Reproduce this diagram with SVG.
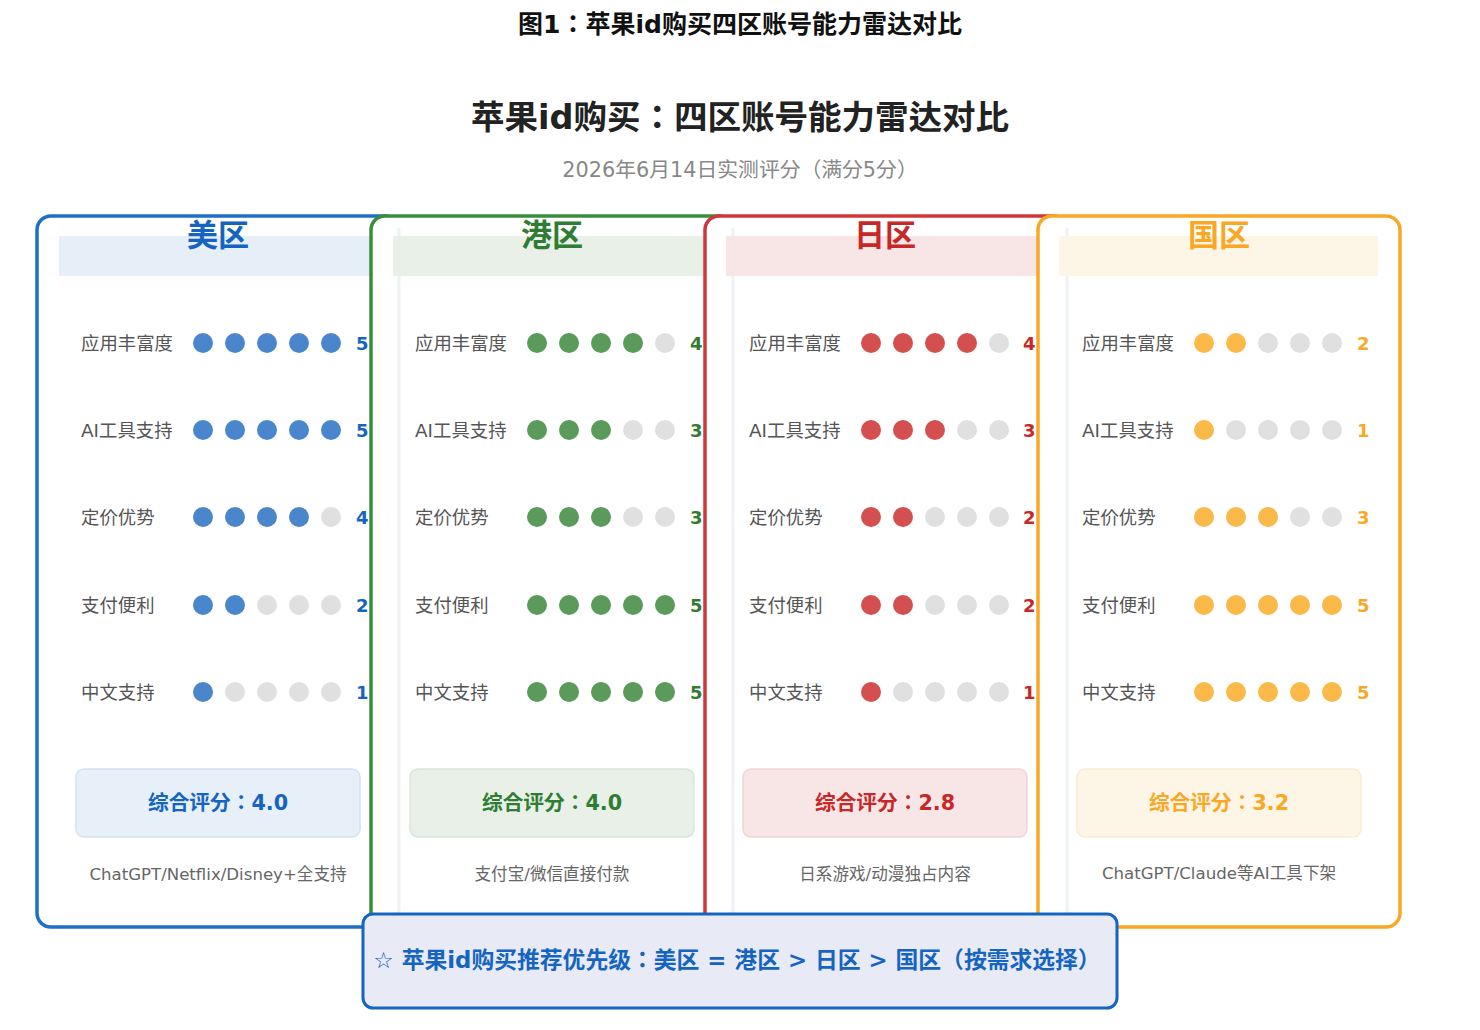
<svg xmlns="http://www.w3.org/2000/svg" width="1480" height="1030" viewBox="0 0 1480 1030">
<style>
text{font-family:"DejaVu Sans","Noto Sans CJK JP",sans-serif}
.lab{font-size:18.4px;fill:#555}
.hd{font-size:31px;font-weight:bold;text-anchor:middle}
.num{font-size:18px;font-weight:bold}
.sc{font-size:20.7px;font-weight:bold;text-anchor:middle}
.note{font-size:16.6px;fill:#666;text-anchor:middle}
.e{fill:#e0e0e0}
.b{fill:#4a86cc}.g{fill:#5a9a5a}.r{fill:#d45050}.o{fill:#fbb94a}
.card{fill:#fff;stroke-width:3.5}
.faint{fill:none;stroke:#eef2f5;stroke-width:3}
</style>
<rect width="1480" height="1030" fill="#fff"/>
<text x="740" y="33" font-size="25" font-weight="bold" text-anchor="middle" fill="#111">图1：苹果id购买四区账号能力雷达对比</text>
<text x="740" y="129" font-size="33.5" font-weight="bold" text-anchor="middle" fill="#222">苹果id购买：四区账号能力雷达对比</text>
<text x="740" y="177" font-size="20.8" text-anchor="middle" fill="#888">2026年6月14日实测评分（满分5分）</text>

<g id="card-us">
<rect class="card" x="37" y="216" width="362" height="711" rx="14" stroke="#1e6fc8"/>
<rect x="59" y="236" width="320" height="40" fill="#e6eef8"/>
<text class="hd" x="218" y="246" fill="#1565c0">美区</text>
<g class="lab"><text x="81" y="350">应用丰富度</text><text x="81" y="437">AI工具支持</text><text x="81" y="524">定价优势</text><text x="81" y="612">支付便利</text><text x="81" y="699">中文支持</text></g>
<g><circle class="b" cx="203" cy="343" r="10"/><circle class="b" cx="235" cy="343" r="10"/><circle class="b" cx="267" cy="343" r="10"/><circle class="b" cx="299" cy="343" r="10"/><circle class="b" cx="331" cy="343" r="10"/>
<circle class="b" cx="203" cy="430" r="10"/><circle class="b" cx="235" cy="430" r="10"/><circle class="b" cx="267" cy="430" r="10"/><circle class="b" cx="299" cy="430" r="10"/><circle class="b" cx="331" cy="430" r="10"/>
<circle class="b" cx="203" cy="517" r="10"/><circle class="b" cx="235" cy="517" r="10"/><circle class="b" cx="267" cy="517" r="10"/><circle class="b" cx="299" cy="517" r="10"/><circle class="e" cx="331" cy="517" r="10"/>
<circle class="b" cx="203" cy="605" r="10"/><circle class="b" cx="235" cy="605" r="10"/><circle class="e" cx="267" cy="605" r="10"/><circle class="e" cx="299" cy="605" r="10"/><circle class="e" cx="331" cy="605" r="10"/>
<circle class="b" cx="203" cy="692" r="10"/><circle class="e" cx="235" cy="692" r="10"/><circle class="e" cx="267" cy="692" r="10"/><circle class="e" cx="299" cy="692" r="10"/><circle class="e" cx="331" cy="692" r="10"/></g>
<g class="num" fill="#1565c0"><text x="356" y="350">5</text><text x="356" y="437">5</text><text x="356" y="524">4</text><text x="356" y="612">2</text><text x="356" y="699">1</text></g>
<rect x="76" y="769" width="284" height="68" rx="8" fill="#e7eff9" stroke="#d4e2f3" stroke-width="1.5"/>
<text class="sc" x="218" y="810" fill="#1565c0">综合评分：4.0</text>
<text class="note" x="218" y="880">ChatGPT/Netflix/Disney+全支持</text>
</g>

<g id="card-hk">
<rect class="card" x="371" y="216" width="362" height="711" rx="14" stroke="#388e3c"/>
<line class="faint" x1="399" y1="228" x2="399" y2="914"/>
<rect x="393" y="236" width="320" height="40" fill="#e8f0e8"/>
<text class="hd" x="552" y="246" fill="#2e7d32">港区</text>
<g class="lab"><text x="415" y="350">应用丰富度</text><text x="415" y="437">AI工具支持</text><text x="415" y="524">定价优势</text><text x="415" y="612">支付便利</text><text x="415" y="699">中文支持</text></g>
<g><circle class="g" cx="537" cy="343" r="10"/><circle class="g" cx="569" cy="343" r="10"/><circle class="g" cx="601" cy="343" r="10"/><circle class="g" cx="633" cy="343" r="10"/><circle class="e" cx="665" cy="343" r="10"/>
<circle class="g" cx="537" cy="430" r="10"/><circle class="g" cx="569" cy="430" r="10"/><circle class="g" cx="601" cy="430" r="10"/><circle class="e" cx="633" cy="430" r="10"/><circle class="e" cx="665" cy="430" r="10"/>
<circle class="g" cx="537" cy="517" r="10"/><circle class="g" cx="569" cy="517" r="10"/><circle class="g" cx="601" cy="517" r="10"/><circle class="e" cx="633" cy="517" r="10"/><circle class="e" cx="665" cy="517" r="10"/>
<circle class="g" cx="537" cy="605" r="10"/><circle class="g" cx="569" cy="605" r="10"/><circle class="g" cx="601" cy="605" r="10"/><circle class="g" cx="633" cy="605" r="10"/><circle class="g" cx="665" cy="605" r="10"/>
<circle class="g" cx="537" cy="692" r="10"/><circle class="g" cx="569" cy="692" r="10"/><circle class="g" cx="601" cy="692" r="10"/><circle class="g" cx="633" cy="692" r="10"/><circle class="g" cx="665" cy="692" r="10"/></g>
<g class="num" fill="#2e7d32"><text x="690" y="350">4</text><text x="690" y="437">3</text><text x="690" y="524">3</text><text x="690" y="612">5</text><text x="690" y="699">5</text></g>
<rect x="410" y="769" width="284" height="68" rx="8" fill="#e8f0e8" stroke="#d6e6d6" stroke-width="1.5"/>
<text class="sc" x="552" y="810" fill="#2e7d32">综合评分：4.0</text>
<text class="note" x="552" y="880">支付宝/微信直接付款</text>
</g>

<g id="card-jp">
<rect class="card" x="705" y="216" width="362" height="711" rx="14" stroke="#d03838"/>
<line class="faint" x1="733" y1="228" x2="733" y2="914"/>
<rect x="726" y="236" width="320" height="40" fill="#f8e6e6"/>
<text class="hd" x="885" y="246" fill="#c62828">日区</text>
<g class="lab"><text x="749" y="350">应用丰富度</text><text x="749" y="437">AI工具支持</text><text x="749" y="524">定价优势</text><text x="749" y="612">支付便利</text><text x="749" y="699">中文支持</text></g>
<g><circle class="r" cx="871" cy="343" r="10"/><circle class="r" cx="903" cy="343" r="10"/><circle class="r" cx="935" cy="343" r="10"/><circle class="r" cx="967" cy="343" r="10"/><circle class="e" cx="999" cy="343" r="10"/>
<circle class="r" cx="871" cy="430" r="10"/><circle class="r" cx="903" cy="430" r="10"/><circle class="r" cx="935" cy="430" r="10"/><circle class="e" cx="967" cy="430" r="10"/><circle class="e" cx="999" cy="430" r="10"/>
<circle class="r" cx="871" cy="517" r="10"/><circle class="r" cx="903" cy="517" r="10"/><circle class="e" cx="935" cy="517" r="10"/><circle class="e" cx="967" cy="517" r="10"/><circle class="e" cx="999" cy="517" r="10"/>
<circle class="r" cx="871" cy="605" r="10"/><circle class="r" cx="903" cy="605" r="10"/><circle class="e" cx="935" cy="605" r="10"/><circle class="e" cx="967" cy="605" r="10"/><circle class="e" cx="999" cy="605" r="10"/>
<circle class="r" cx="871" cy="692" r="10"/><circle class="e" cx="903" cy="692" r="10"/><circle class="e" cx="935" cy="692" r="10"/><circle class="e" cx="967" cy="692" r="10"/><circle class="e" cx="999" cy="692" r="10"/></g>
<g class="num" fill="#c62828"><text x="1023" y="350">4</text><text x="1023" y="437">3</text><text x="1023" y="524">2</text><text x="1023" y="612">2</text><text x="1023" y="699">1</text></g>
<rect x="743" y="769" width="284" height="68" rx="8" fill="#f8e6e6" stroke="#f2d4d4" stroke-width="1.5"/>
<text class="sc" x="885" y="810" fill="#c62828">综合评分：2.8</text>
<text class="note" x="885" y="880">日系游戏/动漫独占内容</text>
</g>

<g id="card-cn">
<rect class="card" x="1038" y="216" width="362" height="711" rx="14" stroke="#f9a825"/>
<line class="faint" x1="1067" y1="228" x2="1067" y2="914"/>
<rect x="1059" y="236" width="319" height="40" fill="#fdf5e6"/>
<text class="hd" x="1219" y="246" fill="#f9a825">国区</text>
<g class="lab"><text x="1082" y="350">应用丰富度</text><text x="1082" y="437">AI工具支持</text><text x="1082" y="524">定价优势</text><text x="1082" y="612">支付便利</text><text x="1082" y="699">中文支持</text></g>
<g><circle class="o" cx="1204" cy="343" r="10"/><circle class="o" cx="1236" cy="343" r="10"/><circle class="e" cx="1268" cy="343" r="10"/><circle class="e" cx="1300" cy="343" r="10"/><circle class="e" cx="1332" cy="343" r="10"/>
<circle class="o" cx="1204" cy="430" r="10"/><circle class="e" cx="1236" cy="430" r="10"/><circle class="e" cx="1268" cy="430" r="10"/><circle class="e" cx="1300" cy="430" r="10"/><circle class="e" cx="1332" cy="430" r="10"/>
<circle class="o" cx="1204" cy="517" r="10"/><circle class="o" cx="1236" cy="517" r="10"/><circle class="o" cx="1268" cy="517" r="10"/><circle class="e" cx="1300" cy="517" r="10"/><circle class="e" cx="1332" cy="517" r="10"/>
<circle class="o" cx="1204" cy="605" r="10"/><circle class="o" cx="1236" cy="605" r="10"/><circle class="o" cx="1268" cy="605" r="10"/><circle class="o" cx="1300" cy="605" r="10"/><circle class="o" cx="1332" cy="605" r="10"/>
<circle class="o" cx="1204" cy="692" r="10"/><circle class="o" cx="1236" cy="692" r="10"/><circle class="o" cx="1268" cy="692" r="10"/><circle class="o" cx="1300" cy="692" r="10"/><circle class="o" cx="1332" cy="692" r="10"/></g>
<g class="num" fill="#f9a825"><text x="1357" y="350">2</text><text x="1357" y="437">1</text><text x="1357" y="524">3</text><text x="1357" y="612">5</text><text x="1357" y="699">5</text></g>
<rect x="1077" y="769" width="284" height="68" rx="8" fill="#fdf5e6" stroke="#faecd2" stroke-width="1.5"/>
<text class="sc" x="1219" y="810" fill="#f9a825">综合评分：3.2</text>
<text class="note" x="1219" y="879">ChatGPT/Claude等AI工具下架</text>
</g>

<g id="connectors"></g>

<g id="summary">
<rect x="363" y="914" width="754" height="94" rx="10" fill="#e8eaf6" stroke="#1565c0" stroke-width="3"/>
<text x="737" y="968" font-size="22.8" font-weight="bold" text-anchor="middle" fill="#1565c0">☆ 苹果id购买推荐优先级：美区 = 港区 &gt; 日区 &gt; 国区（按需求选择）</text>
</g>
</svg>
